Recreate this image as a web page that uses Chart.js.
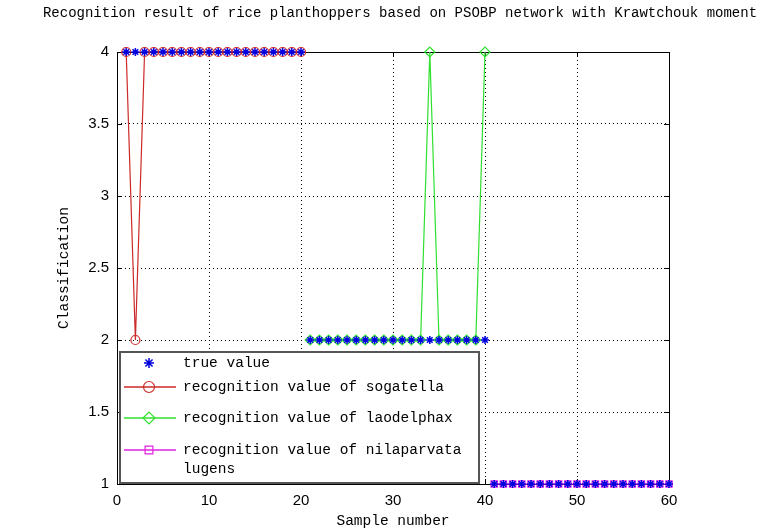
<!DOCTYPE html>
<html>
<head>
<meta charset="utf-8">
<script src="https://cdn.jsdelivr.net/npm/chart.js@4.4.0/dist/chart.umd.min.js"></script>
<style>
  body { margin: 0; background: #fff; }
</style>
</head>
<body>
<canvas id="chart" width="766" height="530"></canvas>
<script>
const samplesAll = [1,2,3,4,5,6,7,8,9,10,11,12,13,14,15,16,17,18,19,20,
  21,22,23,24,25,26,27,28,29,30,31,32,33,34,35,36,37,38,39,40,
  41,42,43,44,45,46,47,48,49,50,51,52,53,54,55,56,57,58,59,60];
const trueValue = [4,4,4,4,4,4,4,4,4,4,4,4,4,4,4,4,4,4,4,4,
  2,2,2,2,2,2,2,2,2,2,2,2,2,2,2,2,2,2,2,2,
  1,1,1,1,1,1,1,1,1,1,1,1,1,1,1,1,1,1,1,1];

const samplesSog = [1,2,3,4,5,6,7,8,9,10,11,12,13,14,15,16,17,18,19,20];
const sogatella = [4,2,4,4,4,4,4,4,4,4,4,4,4,4,4,4,4,4,4,4];

const samplesLao = [21,22,23,24,25,26,27,28,29,30,31,32,33,34,35,36,37,38,39,40];
const laodelphax = [2,2,2,2,2,2,2,2,2,2,2,2,2,4,2,2,2,2,2,4];

const samplesNil = [41,42,43,44,45,46,47,48,49,50,51,52,53,54,55,56,57,58,59,60];
const nilaparvata = [1,1,1,1,1,1,1,1,1,1,1,1,1,1,1,1,1,1,1,1];

const seriesNames = ['true value', 'recognition value of sogatella',
  'recognition value of laodelphax', 'recognition value of nilaparvata\nlugens'];

const xTicks = [0, 10, 20, 30, 40, 50, 60];
const yTicks = [1, 1.5, 2, 2.5, 3, 3.5, 4];

const chartTitle = 'Recognition result of rice planthoppers based on PSOBP network with Krawtchouk moment';

const toPts = (xs, ys) => xs.map((x, i) => ({ x: x, y: ys[i] }));

const monoFont = "'Liberation Mono', 'DejaVu Sans Mono', monospace";
const sansFont = "'Liberation Sans', Arial, sans-serif";

// matlab style frame, inner tick marks, title and legend inside the axes
const matlabAxes = {
  id: 'matlabAxes',
  beforeDatasetsDraw(chart) {
    const { ctx, chartArea: a, scales } = chart;
    ctx.save();
    ctx.strokeStyle = '#000';
    ctx.lineWidth = 1;
    ctx.strokeRect(a.left + 0.5, a.top + 0.5, a.right - a.left, a.bottom - a.top);
    ctx.beginPath();
    xTicks.forEach(v => {
      const px = Math.round(scales.x.getPixelForValue(v)) + 0.5;
      ctx.moveTo(px, a.bottom); ctx.lineTo(px, a.bottom - 5);
      ctx.moveTo(px, a.top); ctx.lineTo(px, a.top + 5);
    });
    yTicks.forEach(v => {
      const py = Math.round(scales.y.getPixelForValue(v)) + 0.5;
      ctx.moveTo(a.left, py); ctx.lineTo(a.left + 5, py);
      ctx.moveTo(a.right, py); ctx.lineTo(a.right - 5, py);
    });
    ctx.stroke();
    ctx.restore();
  },
  afterDraw(chart) {
    const { ctx, chartArea: a } = chart;
    ctx.save();
    // title
    ctx.font = '14px ' + monoFont;
    ctx.fillStyle = '#000';
    ctx.textAlign = 'center';
    ctx.textBaseline = 'middle';
    ctx.fillText(chartTitle, 400, 13);

    // legend
    const bx = a.left + 3, by = 352, bw = 359, bh = a.bottom - by - 1;
    ctx.fillStyle = '#fff';
    ctx.fillRect(bx, by, bw, bh);
    ctx.strokeStyle = '#555';
    ctx.lineWidth = 2;
    ctx.strokeRect(bx, by, bw, bh);
    ctx.font = '14.5px ' + monoFont;
    ctx.textAlign = 'left';
    const rows = [363, 387, 418, 450];
    chart.data.datasets.forEach((ds, i) => {
      const y = rows[i];
      if (ds.showLine !== false) {
        ctx.strokeStyle = ds.borderColor;
        ctx.lineWidth = 1.5;
        ctx.beginPath();
        ctx.moveTo(bx + 4, y); ctx.lineTo(bx + 56, y);
        ctx.stroke();
      }
      ctx.strokeStyle = ds.borderColor;
      ctx.fillStyle = ds.backgroundColor;
      ctx.lineWidth = ds.pointBorderWidth;
      Chart.helpers.drawPoint(ctx, {
        pointStyle: ds.pointStyle, radius: ds.pointRadius + 1, rotation: 0,
        borderWidth: ds.pointBorderWidth
      }, bx + 29, y);
      ctx.fillStyle = '#000';
      seriesNames[i].split('\n').forEach((line, j) => {
        ctx.fillText(line, bx + 63, y + j * 19);
      });
    });
    ctx.restore();
  }
};

new Chart(document.getElementById('chart'), {
  type: 'line',
  data: {
    datasets: [
      {
        label: seriesNames[0],
        data: toPts(samplesAll, trueValue),
        showLine: false,
        pointStyle: 'star',
        pointRadius: 4,
        pointBorderWidth: 1.5,
        borderColor: '#0000e0',
        backgroundColor: '#0000e0'
      },
      {
        label: seriesNames[1],
        data: toPts(samplesSog, sogatella),
        borderColor: '#cc2a2a',
        borderWidth: 1.2,
        pointStyle: 'circle',
        pointRadius: 4.5,
        pointBorderWidth: 1.2,
        backgroundColor: 'rgba(0,0,0,0)',
        tension: 0
      },
      {
        label: seriesNames[2],
        data: toPts(samplesLao, laodelphax),
        borderColor: '#2fe02f',
        borderWidth: 1.2,
        pointStyle: 'rectRot',
        pointRadius: 5,
        pointBorderWidth: 1.2,
        backgroundColor: 'rgba(0,0,0,0)',
        tension: 0
      },
      {
        label: seriesNames[3],
        data: toPts(samplesNil, nilaparvata),
        borderColor: '#e020e0',
        borderWidth: 1.2,
        pointStyle: 'rect',
        pointRadius: 4.5,
        pointBorderWidth: 1.2,
        backgroundColor: 'rgba(0,0,0,0)',
        tension: 0
      }
    ]
  },
  options: {
    responsive: false,
    animation: false,
    clip: false,
    layout: { padding: { left: 55, right: 97, top: 52, bottom: 0 } },
    plugins: {
      legend: { display: false },
      tooltip: { enabled: false },
      title: { display: false }
    },
    scales: {
      x: {
        type: 'linear',
        min: 0,
        max: 60,
        afterFit: (s) => { s.height = 46; },
        ticks: {
          stepSize: 10,
          padding: 8,
          color: '#000',
          font: { family: sansFont, size: 15 }
        },
        grid: { color: '#000', drawTicks: false, lineWidth: 1 },
        border: { display: false, dash: [1, 3] },
        title: {
          display: true,
          text: 'Sample number',
          color: '#000',
          font: { family: monoFont, size: 14.5 },
          padding: { top: 0, bottom: 0 }
        }
      },
      y: {
        min: 1,
        max: 4,
        afterFit: (s) => { s.width = 62; },
        ticks: {
          stepSize: 0.5,
          padding: 8,
          color: '#000',
          font: { family: sansFont, size: 15 },
          callback: (v) => String(v)
        },
        grid: { color: '#000', drawTicks: false, lineWidth: 1 },
        border: { display: false, dash: [1, 3] },
        title: {
          display: true,
          text: 'Classification',
          color: '#000',
          font: { family: monoFont, size: 14.5 },
          padding: { top: 0, bottom: 0 }
        }
      }
    }
  },
  plugins: [matlabAxes]
});
</script>
</body>
</html>
